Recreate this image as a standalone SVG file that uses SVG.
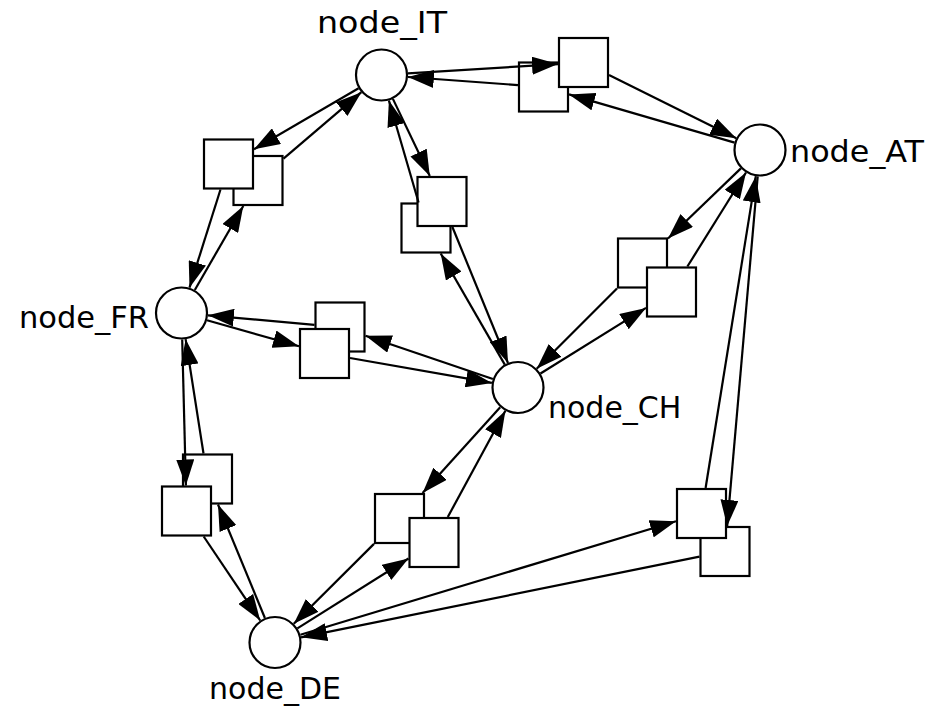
<svg xmlns="http://www.w3.org/2000/svg" width="929" height="712" viewBox="0 0 929 712">
<style>
.n circle{fill:#fff;stroke:#000;stroke-width:2.2}
.s rect{fill:#fff;stroke:#000;stroke-width:2.2}
.lbl{font-family:"DejaVu Sans","Liberation Sans",sans-serif;font-size:30px;fill:#000}
#edges line{stroke:#000;stroke-width:2.2;marker-end:url(#ah)}
</style>
<defs>
<marker id="ah" markerUnits="userSpaceOnUse" markerWidth="26" markerHeight="18" viewBox="0 0 26 18" refX="26" refY="9" orient="auto"><path d="M0,0 L26,9 L0,18 z" fill="#000"/></marker>
</defs>
<rect width="929" height="712" fill="#fff"/>
<g id="node_IT" class="n"><circle cx="381.5" cy="75" r="25.5"/><text class="lbl" x="382" y="33" text-anchor="middle" textLength="130" lengthAdjust="spacingAndGlyphs">node_IT</text></g>
<g id="node_AT" class="n"><circle cx="760" cy="150" r="25.5"/><text class="lbl" x="790" y="162" textLength="134" lengthAdjust="spacingAndGlyphs">node_AT</text></g>
<g id="node_FR" class="n"><circle cx="181.5" cy="313" r="25.5"/><text class="lbl" x="149" y="328" text-anchor="end" textLength="130" lengthAdjust="spacingAndGlyphs">node_FR</text></g>
<g id="node_CH" class="n"><circle cx="518" cy="387.5" r="25.5"/><text class="lbl" x="548" y="418">node_CH</text></g>
<g id="node_DE" class="n"><circle cx="275" cy="642.5" r="25.5"/><text class="lbl" x="275" y="699" text-anchor="middle">node_DE</text></g>
<g id="sq_AT_IT" class="s"><rect x="519" y="62.5" width="49" height="49"/></g>
<g id="sq_IT_AT" class="s"><rect x="559" y="38" width="49" height="49"/></g>
<g id="sq_FR_IT" class="s"><rect x="233.5" y="156" width="49" height="49"/></g>
<g id="sq_IT_FR" class="s"><rect x="204" y="139.5" width="49" height="49"/></g>
<g id="sq_CH_IT" class="s"><rect x="401.5" y="203.5" width="49" height="49"/></g>
<g id="sq_IT_CH" class="s"><rect x="417.5" y="177" width="49" height="49"/></g>
<g id="sq_CH_FR" class="s"><rect x="315.5" y="302.5" width="49" height="49"/></g>
<g id="sq_FR_CH" class="s"><rect x="300" y="329" width="49" height="49"/></g>
<g id="sq_AT_CH" class="s"><rect x="618" y="238.5" width="49" height="49"/></g>
<g id="sq_CH_AT" class="s"><rect x="647" y="267.5" width="49" height="49"/></g>
<g id="sq_AT_DE" class="s"><rect x="700.5" y="527" width="49" height="49"/></g>
<g id="sq_DE_AT" class="s"><rect x="677" y="489" width="49" height="49"/></g>
<g id="sq_DE_FR" class="s"><rect x="183" y="454.5" width="49" height="49"/></g>
<g id="sq_FR_DE" class="s"><rect x="162" y="486.5" width="49" height="49"/></g>
<g id="sq_CH_DE" class="s"><rect x="375" y="494" width="49" height="49"/></g>
<g id="sq_DE_CH" class="s"><rect x="409.5" y="518" width="49" height="49"/></g>
<g id="edges">
<line x1="408" y1="73.4" x2="558" y2="64.1"/>
<line x1="609" y1="75.1" x2="736.3" y2="138.2"/>
<line x1="734.6" y1="142.6" x2="569" y2="94.4"/>
<line x1="518" y1="85.1" x2="407.9" y2="77"/>
<line x1="358.6" y1="88.3" x2="254" y2="149.2"/>
<line x1="220.5" y1="189.5" x2="189.5" y2="287.7"/>
<line x1="194.8" y1="290" x2="243.3" y2="206"/>
<line x1="283.5" y1="158.7" x2="361.4" y2="92.2"/>
<line x1="392.9" y1="98.9" x2="429.8" y2="176"/>
<line x1="452.4" y1="227" x2="508" y2="363"/>
<line x1="504.8" y1="364.6" x2="440.7" y2="253.5"/>
<line x1="418.6" y1="202.5" x2="388.9" y2="100.5"/>
<line x1="740.9" y1="168.4" x2="668" y2="238.5"/>
<line x1="617" y1="288.5" x2="536.7" y2="368.8"/>
<line x1="540.5" y1="373.5" x2="646" y2="307.9"/>
<line x1="687.4" y1="266.5" x2="746" y2="172.5"/>
<line x1="757.7" y1="176.4" x2="727.2" y2="526"/>
<line x1="699.5" y1="556.7" x2="301" y2="637.3"/>
<line x1="300.4" y1="634.8" x2="676" y2="521.2"/>
<line x1="705.6" y1="488" x2="755.8" y2="176.2"/>
<line x1="207" y1="320.2" x2="299" y2="346.3"/>
<line x1="350" y1="358" x2="491.9" y2="382.9"/>
<line x1="492.9" y1="379" x2="365.5" y2="335.7"/>
<line x1="314.5" y1="324.8" x2="207.9" y2="315.3"/>
<line x1="182.2" y1="339.5" x2="185.9" y2="485.5"/>
<line x1="203.7" y1="536.5" x2="260.2" y2="620.5"/>
<line x1="264.9" y1="618" x2="218" y2="504.5"/>
<line x1="203.5" y1="453.5" x2="185.6" y2="339.2"/>
<line x1="500.2" y1="407.2" x2="422.6" y2="493"/>
<line x1="374" y1="543.9" x2="293.8" y2="623.8"/>
<line x1="297.4" y1="628.4" x2="408.5" y2="558.5"/>
<line x1="447.8" y1="517" x2="505.4" y2="410.8"/>
</g>
</svg>
